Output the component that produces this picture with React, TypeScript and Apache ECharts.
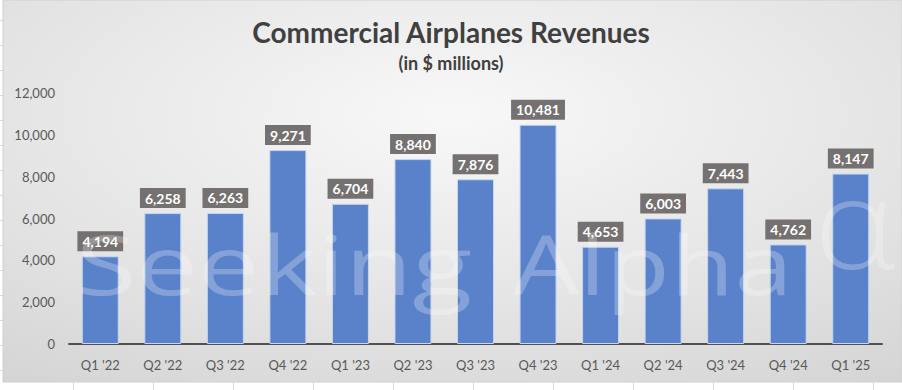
import React, { useEffect, useRef } from 'react';
import * as echarts from 'echarts';

const categories = ["Q1 '22", "Q2 '22", "Q3 '22", "Q4 '22", "Q1 '23", "Q2 '23", "Q3 '23", "Q4 '23", "Q1 '24", "Q2 '24", "Q3 '24", "Q4 '24", "Q1 '25"];
const revenues = [4194, 6258, 6263, 9271, 6704, 8840, 7876, 10481, 4653, 6003, 7443, 4762, 8147];
const yMax = 12000;
const yInterval = 2000;
const titleText = 'Commercial Airplanes Revenues';
const subtitleText = '(in $ millions)';

const W = 902;
const H = 390;

export default function App() {
  const ref = useRef<HTMLDivElement>(null);
  useEffect(() => {
    if (!ref.current) return;
    const chart = echarts.init(ref.current, undefined, { renderer: 'svg' });

    const sheetLines: any[] = [];
    for (let x = 73; x < W; x += 80) {
      sheetLines.push({ type: 'line', silent: true, z: -5, shape: { x1: x + 0.5, y1: 382, x2: x + 0.5, y2: H }, style: { stroke: '#d9d9d9', lineWidth: 1 } });
    }
    for (let y = 20; y < 382; y += 25) {
      sheetLines.push({ type: 'line', silent: true, z: -5, shape: { x1: 0, y1: y + 0.5, x2: 3, y2: y + 0.5 }, style: { stroke: '#d9d9d9', lineWidth: 1 } });
    }

    const wm = 'rgba(255,255,255,0.26)';

    chart.setOption({
      animation: false,
      backgroundColor: '#ffffff',
      title: {
        text: titleText,
        subtext: subtitleText,
        left: 'center',
        top: 13,
        itemGap: 8,
        textStyle: { fontFamily: 'Lato', fontWeight: 'bold', fontSize: 28, color: '#404040' },
        subtextStyle: { fontFamily: 'Lato', fontWeight: 'bold', fontSize: 18, color: '#404040' },
      },
      grid: { left: 69, right: 20, top: 93, bottom: 46, containLabel: false },
      xAxis: {
        type: 'category',
        data: categories,
        axisLine: { show: true, lineStyle: { color: '#505050', width: 2 } },
        axisTick: { show: false },
        axisLabel: { fontFamily: 'Lato', fontSize: 13, color: '#595959', margin: 14 },
      },
      yAxis: {
        type: 'value',
        min: 0,
        max: yMax,
        interval: yInterval,
        axisLine: { show: false },
        axisTick: { show: false },
        splitLine: { show: false },
        axisLabel: {
          fontFamily: 'Lato',
          fontSize: 13,
          color: '#595959',
          margin: 14,
          formatter: (v: number) => v.toLocaleString('en-US'),
        },
      },
      series: [
        {
          type: 'bar',
          data: revenues,
          barWidth: 37,
          itemStyle: { color: '#5A82CA', borderColor: '#c7d6ef', borderWidth: 1 },
          label: {
            show: true,
            position: 'top',
            distance: 5,
            formatter: (p: any) => Number(p.value).toLocaleString('en-US'),
            fontFamily: 'Lato',
            fontWeight: 'bold',
            fontSize: 14,
            color: '#ffffff',
            backgroundColor: '#767171',
            padding: [3, 5, 3, 5],
          },
        },
      ],
      graphic: [
        {
          type: 'rect',
          silent: true,
          z: -10,
          shape: { x: 3, y: 0, width: W - 3, height: 382 },
          style: {
            fill: {
              type: 'radial',
              x: 0.5,
              y: 0.3,
              r: 1.25,
              colorStops: [
                { offset: 0, color: '#f8f8f8' },
                { offset: 0.45, color: '#e2e2e2' },
                { offset: 1, color: '#c2c2c2' },
              ],
            },
            stroke: '#d0d0d0',
            lineWidth: 1,
          },
        },
        ...sheetLines,
        {
          type: 'text',
          silent: true,
          z: 100,
          x: 76,
          y: 263,
          scaleX: 1.34,
          style: {
            text: 'Seeking',
            font: '82px "Open Sans"',
            lineHeight: 60,
            fill: wm,
            align: 'left',
            verticalAlign: 'middle',
          },
        },
        {
          type: 'text',
          silent: true,
          z: 100,
          x: 513,
          y: 263,
          scaleX: 1.28,
          style: {
            text: 'Alpha',
            font: '82px "Open Sans"',
            lineHeight: 60,
            fill: wm,
            align: 'left',
            verticalAlign: 'middle',
          },
        },
        {
          type: 'text',
          silent: true,
          z: 100,
          x: 814,
          y: 220,
          scaleX: 1.1,
          style: {
            text: 'α',
            font: '300 125px "Open Sans"',
            lineHeight: 50,
            fill: wm,
            align: 'left',
            verticalAlign: 'middle',
          },
        },
      ],
    });
    return () => chart.dispose();
  }, []);
  return <div ref={ref} style={{ position: 'fixed', left: 0, top: 0, width: W, height: H }} />;
}
